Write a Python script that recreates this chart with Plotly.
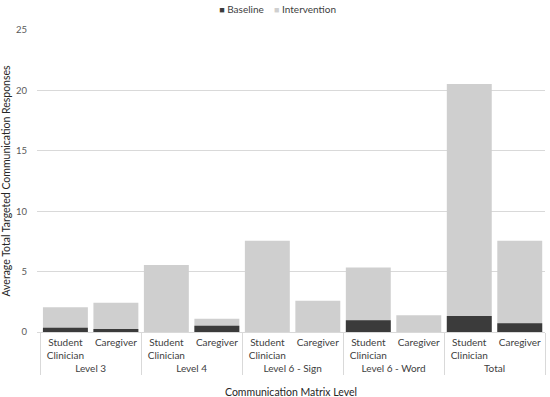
import plotly.graph_objects as go

levels = ["Level 3", "Level 3", "Level 4", "Level 4", "Level 6 - Sign", "Level 6 - Sign",
          "Level 6 - Word", "Level 6 - Word", "Total", "Total"]
roles = ["Student<br>Clinician", "Caregiver"] * 5
baseline = [0.35, 0.25, 0.0, 0.52, 0.0, 0.0, 0.97, 0.0, 1.33, 0.72]
intervention = [2.05, 2.43, 5.55, 1.10, 7.56, 2.58, 5.33, 1.39, 20.53, 7.56]
series_names = ["Baseline", "Intervention"]
colors = {"Baseline": "#3b3b3b", "Intervention": "#cfcfcf"}

font = "Lato, Open Sans, sans-serif"

fig = go.Figure()
fig.add_trace(go.Bar(x=[levels, roles], y=intervention, name="Intervention",
                     marker=dict(color=colors["Intervention"], line=dict(width=0)), showlegend=False))
fig.add_trace(go.Bar(x=[levels, roles], y=baseline, name="Baseline",
                     marker=dict(color=colors["Baseline"], line=dict(width=0)), showlegend=False))

# compact legend: coloured square glyphs in a single legend label
sq = "<span style='color:{c};font-size:9px'>■</span>"
legend_text = ("&nbsp;&nbsp;&nbsp;&nbsp;").join(
    f"{sq.format(c=colors[nm])}&nbsp;{nm}" for nm in series_names)
fig.add_trace(go.Scatter(
    x=[[levels[0]], [roles[0]]], y=[0], mode="markers", hoverinfo="skip",
    marker=dict(color="rgba(0,0,0,0)", size=1), name=legend_text, showlegend=True))

fig.update_layout(
    width=550, height=397,
    barmode="overlay", bargap=0.11,
    plot_bgcolor="white", paper_bgcolor="white",
    margin=dict(l=37, r=5, t=30, b=65, autoexpand=False),
    font=dict(family=font, size=10, color="#404040"),
    legend=dict(orientation="h", x=0.28, xanchor="left", y=1.069, yanchor="middle",
                yref="paper", font=dict(size=10, color="#404040"), itemwidth=30),
    xaxis=dict(type="multicategory", showline=True, linecolor="#d9d9d9", automargin=False,
               tickfont=dict(size=10, color="#404040"), tickangle=0, showdividers=True,
               dividercolor="#d9d9d9", dividerwidth=1, ticks="", ticklabelstandoff=1,
               title=dict(text="Communication Matrix Level", font=dict(size=10.5, color="#262626"),
                          standoff=15)),
    yaxis=dict(range=[0, 25], dtick=5, showgrid=True, gridcolor="#d9d9d9", zeroline=False,
               automargin=False,
               tickfont=dict(size=9.5, color="#595959"), ticks="", ticklabelstandoff=9,
               title=dict(text="Average Total Targeted Communication Responses",
                          font=dict(size=10.5, color="#262626"), standoff=7)),
)
fig.write_html("out.html", config={"displayModeBar": False},
               post_script="document.body.style.margin='0';")
